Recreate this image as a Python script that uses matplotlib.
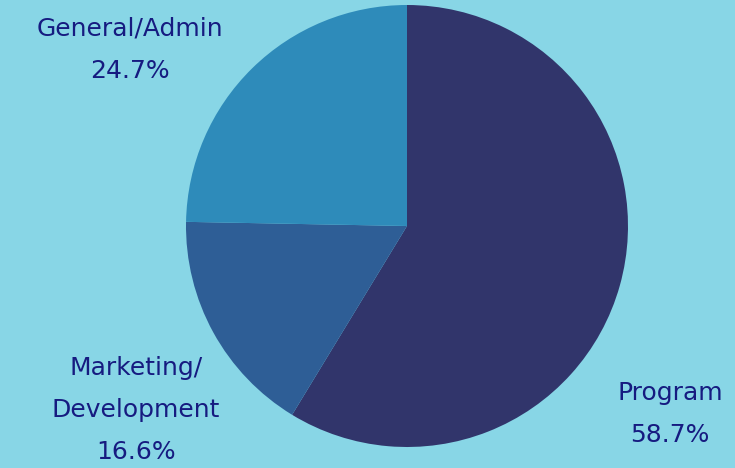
import matplotlib.pyplot as plt

# expense breakdown
labels = ['Program', 'Marketing/\nDevelopment', 'General/Admin']
shares = [58.7, 16.6, 24.7]
colors = ['#31356b', '#2e5e96', '#2e8bba']

bg = '#88d6e6'
txt = '#161b80'

fig = plt.figure(figsize=(7.35, 4.68), dpi=100, facecolor=bg)
ax = fig.add_axes([0, 0, 1, 1])
ax.set_facecolor(bg)

ax.pie(shares, colors=colors, startangle=90, counterclock=False,
       center=(407, 242), radius=221, wedgeprops={'linewidth': 0})

ax.set_xlim(0, 735)
ax.set_ylim(0, 468)
ax.set_aspect('equal')
ax.axis('off')

# label positions (pixel space, y from bottom)
label_pos = [(670, 54), (136, 58), (130, 418)]
for lab, val, (x, y) in zip(labels, shares, label_pos):
    ax.text(x, y, f'{lab}\n{val}%', ha='center', va='center',
            fontsize=18, color=txt, family='DejaVu Sans',
            linespacing=1.95)

fig.savefig('out.png', dpi=100, facecolor=bg)
